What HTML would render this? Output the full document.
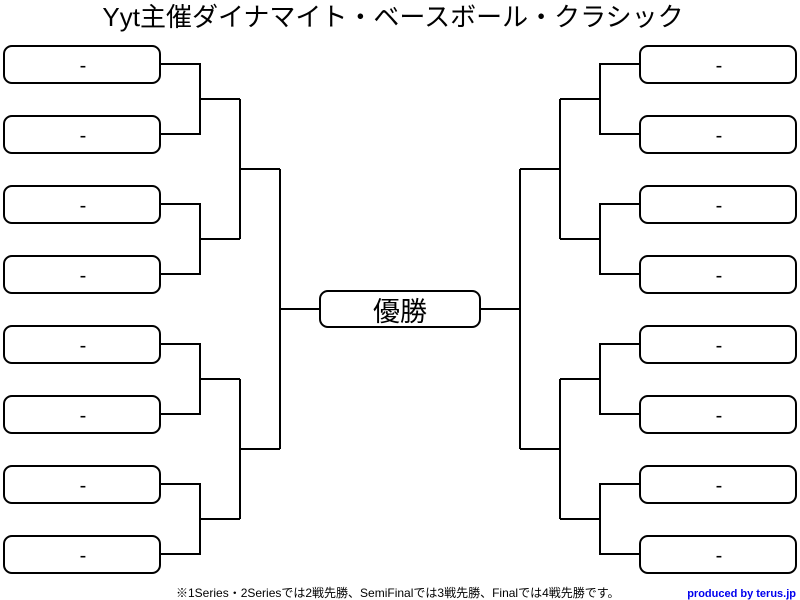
<!DOCTYPE html>
<html><head><meta charset="utf-8"><style>
html,body{margin:0;padding:0;background:#fff;width:800px;height:600px;overflow:hidden}
svg{display:block}
text{font-family:"Liberation Sans","Noto Sans CJK JP",sans-serif}
</style></head><body>
<svg width="800" height="600" viewBox="0 0 800 600" xmlns="http://www.w3.org/2000/svg">
<text x="393" y="26" font-size="26" text-anchor="middle" fill="#000">Yyt主催ダイナマイト・ベースボール・クラシック</text>
<g fill="#fff" stroke="#000" stroke-width="2">
<rect x="4" y="46" width="156" height="37" rx="8"/>
<rect x="4" y="116" width="156" height="37" rx="8"/>
<rect x="4" y="186" width="156" height="37" rx="8"/>
<rect x="4" y="256" width="156" height="37" rx="8"/>
<rect x="4" y="326" width="156" height="37" rx="8"/>
<rect x="4" y="396" width="156" height="37" rx="8"/>
<rect x="4" y="466" width="156" height="37" rx="8"/>
<rect x="4" y="536" width="156" height="37" rx="8"/>
<rect x="640" y="46" width="156" height="37" rx="8"/>
<rect x="640" y="116" width="156" height="37" rx="8"/>
<rect x="640" y="186" width="156" height="37" rx="8"/>
<rect x="640" y="256" width="156" height="37" rx="8"/>
<rect x="640" y="326" width="156" height="37" rx="8"/>
<rect x="640" y="396" width="156" height="37" rx="8"/>
<rect x="640" y="466" width="156" height="37" rx="8"/>
<rect x="640" y="536" width="156" height="37" rx="8"/>
<rect x="320" y="291" width="160" height="36" rx="8"/>
</g>
<g fill="none" stroke="#000" stroke-width="2">
<path d="M160 64H200V134H160M200 99H240"/>
<path d="M160 204H200V274H160M200 239H240"/>
<path d="M160 344H200V414H160M200 379H240"/>
<path d="M160 484H200V554H160M200 519H240"/>
<path d="M240 99V239M240 169H280M240 379V519M240 449H280M280 169V449M280 309H320"/>
<path d="M640 64H600V134H640M600 99H560"/>
<path d="M640 204H600V274H640M600 239H560"/>
<path d="M640 344H600V414H640M600 379H560"/>
<path d="M640 484H600V554H640M600 519H560"/>
<path d="M560 99V239M560 169H520M560 379V519M560 449H520M520 169V449M520 309H480"/>
</g>
<g font-size="20" text-anchor="middle" fill="#000">
<text x="83" y="72">-</text><text x="83" y="142">-</text><text x="83" y="212">-</text><text x="83" y="282">-</text>
<text x="83" y="352">-</text><text x="83" y="422">-</text><text x="83" y="492">-</text><text x="83" y="562">-</text>
<text x="719" y="72">-</text><text x="719" y="142">-</text><text x="719" y="212">-</text><text x="719" y="282">-</text>
<text x="719" y="352">-</text><text x="719" y="422">-</text><text x="719" y="492">-</text><text x="719" y="562">-</text>
</g>
<text x="400" y="321" font-size="27" text-anchor="middle" fill="#000">優勝</text>
<text x="176" y="597" font-size="12" fill="#000">※1Series・2Seriesでは2戦先勝、SemiFinalでは3戦先勝、Finalでは4戦先勝です。</text>
<text x="796" y="597" font-size="11" font-weight="bold" text-anchor="end" fill="#0000ee">produced by terus.jp</text>
</svg>
</body></html>
